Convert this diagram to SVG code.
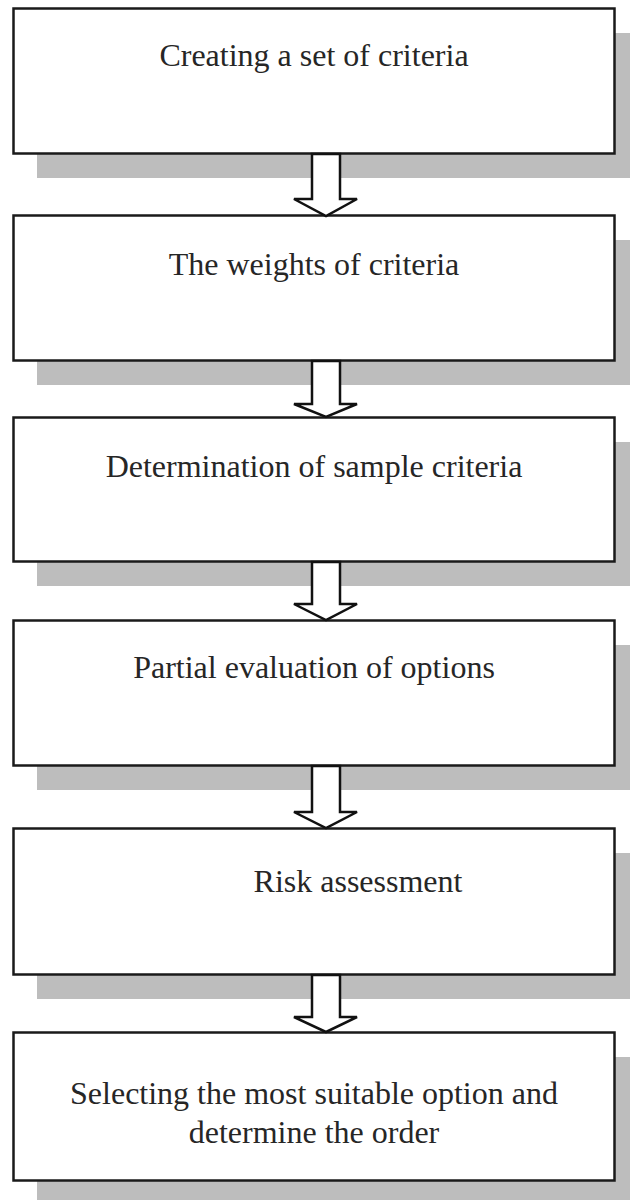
<svg xmlns="http://www.w3.org/2000/svg" width="630" height="1200" viewBox="0 0 630 1200">
<defs>
<style>
.shadow{fill:#bdbdbd;stroke:none}
.box{fill:#ffffff;stroke:#1a1a1a;stroke-width:2.5}
.lbl{font-family:"Liberation Serif","Times New Roman",serif;font-size:32px;fill:#262626;text-anchor:middle}
.arrow{fill:#ffffff;stroke:#111;stroke-width:2.5;stroke-linejoin:miter}
</style>
</defs>
<rect width="630" height="1200" fill="#ffffff"/>
<g id="node1">
<rect class="shadow" x="37" y="33" width="600" height="145"/>
<rect class="box" x="13.5" y="8.5" width="601" height="145"/>
<text class="lbl" x="314" y="66">Creating a set of criteria</text>
</g>
<g id="node2">
<rect class="shadow" x="37" y="240" width="600" height="145"/>
<rect class="box" x="13.5" y="215.5" width="601" height="145"/>
<text class="lbl" x="314" y="275">The weights of criteria</text>
</g>
<g id="node3">
<rect class="shadow" x="37" y="442" width="600" height="144"/>
<rect class="box" x="13.5" y="417.5" width="601" height="144"/>
<text class="lbl" x="314" y="477">Determination of sample criteria</text>
</g>
<g id="node4">
<rect class="shadow" x="37" y="645" width="600" height="145"/>
<rect class="box" x="13.5" y="620.5" width="601" height="145"/>
<text class="lbl" x="314" y="678">Partial evaluation of options</text>
</g>
<g id="node5">
<rect class="shadow" x="37" y="853" width="600" height="146"/>
<rect class="box" x="13.5" y="828.5" width="601" height="146"/>
<text class="lbl" x="358" y="892">Risk assessment</text>
</g>
<g id="node6">
<rect class="shadow" x="37" y="1057" width="600" height="148"/>
<rect class="box" x="13.5" y="1032.5" width="601" height="148"/>
<text class="lbl" x="314" y="1104">Selecting the most suitable option and</text>
<text class="lbl" x="314" y="1143">determine the order</text>
</g>
<g id="connectors">
<path class="arrow" d="M312,154 L340,154 L340,199 L357,199 L326,216 L294,199 L312,199 Z"/>
<path class="arrow" d="M312,361 L340,361 L340,404 L357,404 L326,417 L294,404 L312,404 Z"/>
<path class="arrow" d="M312,562 L340,562 L340,604 L357,604 L326,620 L294,604 L312,604 Z"/>
<path class="arrow" d="M312,766 L340,766 L340,812 L357,812 L326,828 L294,812 L312,812 Z"/>
<path class="arrow" d="M312,975 L340,975 L340,1017 L357,1017 L326,1032 L294,1017 L312,1017 Z"/>
</g>
</svg>
